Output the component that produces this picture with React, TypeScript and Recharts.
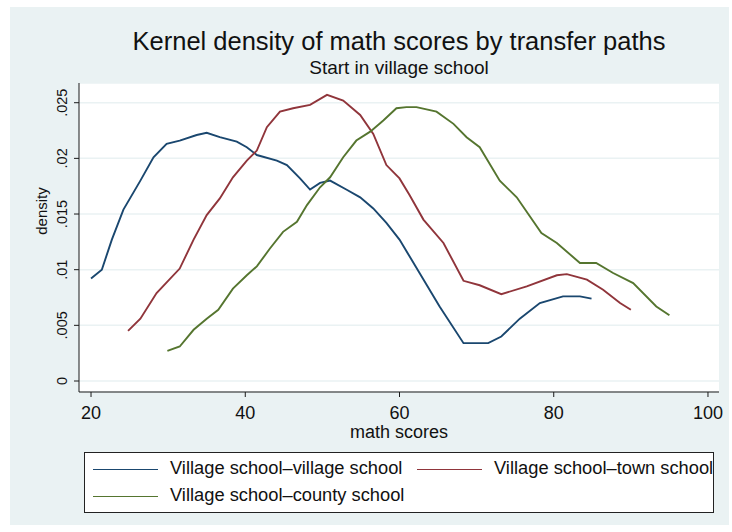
import { CartesianGrid, Line, LineChart, XAxis, YAxis } from 'recharts';

// Kernel density curves (math score → density)
const VILLAGE_X = [
  20, 21.4, 22.7, 24.2, 26.4, 28.1, 29.8, 31.5, 33.7, 35.0, 36.7, 38.9, 40.2, 41.5, 44.1, 45.4, 47.1, 48.4,
  49.7, 51.0, 53.1, 54.9, 56.6, 58.3, 60.0, 61.3, 62.6, 65.2, 68.3, 71.5, 73.2, 75.6, 78.2, 81.2, 83.4, 84.9,
];
const VILLAGE_Y = [
  0.0092, 0.01, 0.0127, 0.0154, 0.018, 0.0201, 0.0213, 0.0216, 0.0221, 0.0223, 0.0219, 0.0215, 0.021, 0.0203,
  0.0198, 0.0194, 0.0182, 0.0172, 0.0178, 0.018, 0.0172, 0.0165, 0.0155, 0.0142, 0.0127, 0.0112, 0.0097,
  0.0067, 0.0034, 0.0034, 0.004, 0.0056, 0.007, 0.0076, 0.0076, 0.0074,
];

const TOWN_X = [
  24.8, 26.4, 28.5, 31.5, 33.3, 35.0, 36.7, 38.4, 40.2, 41.5, 42.8, 44.5, 46.2, 48.4, 50.6, 52.7, 54.9, 56.6,
  58.3, 60.0, 61.3, 63.1, 65.7, 68.3, 70.4, 73.2, 76.5, 80.4, 81.7, 84.3, 86.4, 88.6, 90.0,
];
const TOWN_Y = [
  0.0045, 0.0056, 0.0079, 0.0101, 0.0127, 0.0149, 0.0164, 0.0183, 0.0198, 0.0207, 0.0228, 0.0242, 0.0245,
  0.0248, 0.0257, 0.0252, 0.0239, 0.0222, 0.0194, 0.0182, 0.0167, 0.0145, 0.0124, 0.009, 0.0086, 0.0078,
  0.0085, 0.0095, 0.0096, 0.0091, 0.0082, 0.007, 0.0064,
];

const COUNTY_X = [
  29.9, 31.5, 33.3, 35.0, 36.5, 38.4, 40.2, 41.5, 43.2, 44.9, 46.7, 48.0, 49.7, 51.0, 52.7, 54.4, 56.2, 57.9,
  59.6, 60.9, 62.2, 64.8, 67.0, 68.7, 70.4, 73.0, 75.2, 78.4, 80.4, 83.4, 85.5, 87.7, 90.3, 93.3, 95.0,
];
const COUNTY_Y = [
  0.0027, 0.0031, 0.0046, 0.0056, 0.0064, 0.0083, 0.0095, 0.0103, 0.0119, 0.0134, 0.0143, 0.0158, 0.0174,
  0.0183, 0.0201, 0.0216, 0.0224, 0.0234, 0.0245, 0.0246, 0.0246, 0.0242, 0.0231, 0.0219, 0.021, 0.018,
  0.0165, 0.0133, 0.0124, 0.0106, 0.0106, 0.0097, 0.0088, 0.0067, 0.0059,
];

const X_TICKS = [20, 40, 60, 80, 100];
const Y_TICKS = [0, 0.005, 0.01, 0.015, 0.02, 0.025];
const Y_TICK_LABELS = ['0', '.005', '.01', '.015', '.02', '.025'];

const SERIES = [
  { id: 'village', label: 'Village school\u2013village school', color: '#1a476f', xs: VILLAGE_X, ys: VILLAGE_Y },
  { id: 'town', label: 'Village school\u2013town school', color: '#90353b', xs: TOWN_X, ys: TOWN_Y },
  { id: 'county', label: 'Village school\u2013county school', color: '#55752f', xs: COUNTY_X, ys: COUNTY_Y },
];

const FONT = "'Liberation Sans', Arial, Helvetica, sans-serif";
const BG = '#eaf2f3';
const INK = '#111111';

function YTick(props: any) {
  const { y, payload } = props;
  const idx = Y_TICKS.indexOf(payload.value);
  const text = idx >= 0 ? Y_TICK_LABELS[idx] : String(payload.value);
  return (
    <text
      x={67}
      y={y}
      transform={`rotate(-90, 67, ${y})`}
      textAnchor="middle"
      fontSize={14.5}
      fontFamily={FONT}
      fill={INK}
    >
      {text}
    </text>
  );
}

function XTick(props: any) {
  const { x, y, payload } = props;
  return (
    <text x={x} y={y + 20} textAnchor="middle" fontSize={18} fontFamily={FONT} fill={INK}>
      {payload.value}
    </text>
  );
}

function LegendRow({ color, label, left, top }: { color: string; label: string; left: number; top: number }) {
  return (
    <>
      <div
        style={{ position: 'absolute', left, top, width: 65, height: 0, borderTop: `1.5px solid ${color}` }}
      />
      <div
        style={{
          position: 'absolute',
          left: left + 77,
          top: top - 11,
          fontSize: 18.3,
          lineHeight: '20px',
          whiteSpace: 'nowrap',
          color: INK,
        }}
      >
        {label}
      </div>
    </>
  );
}

export default function App() {
  return (
    <div
      style={{
        position: 'absolute',
        left: 0,
        top: 0,
        width: 732,
        height: 532,
        background: '#ffffff',
        fontFamily: FONT,
        overflow: 'hidden',
      }}
    >
      <div style={{ position: 'absolute', left: 10, top: 7, width: 719, height: 518, background: BG }} />

      <svg width={732} height={532} style={{ position: 'absolute', left: 0, top: 0 }}>
        <text x={399} y={50} textAnchor="middle" fontSize={25.5} fontFamily={FONT} fill={INK}>
          Kernel density of math scores by transfer paths
        </text>
        <text x={399} y={74} textAnchor="middle" fontSize={19} fontFamily={FONT} fill={INK}>
          Start in village school
        </text>
        <text
          x={47}
          y={211}
          transform="rotate(-90, 47, 211)"
          textAnchor="middle"
          fontSize={15}
          fontFamily={FONT}
          fill={INK}
        >
          density
        </text>
        <text x={399} y={438} textAnchor="middle" fontSize={18} fontFamily={FONT} fill={INK}>
          math scores
        </text>
      </svg>

      <div style={{ position: 'absolute', left: 0, top: 0 }}>
        <LineChart width={732} height={532} margin={{ top: 83, right: 13, bottom: 110, left: 39 }}>
          <CartesianGrid fill="#ffffff" stroke={BG} strokeWidth={1.5} vertical={false} />
          <XAxis
            type="number"
            dataKey="x"
            domain={[18.44, 101.43]}
            ticks={X_TICKS}
            allowDataOverflow
            height={30}
            axisLine={{ stroke: '#1a1a1a' }}
            tickLine={{ stroke: '#1a1a1a' }}
            tickSize={5}
            tick={<XTick />}
          />
          <YAxis
            type="number"
            domain={[-0.000988, 0.02677]}
            ticks={Y_TICKS}
            allowDataOverflow
            width={40}
            axisLine={{ stroke: '#1a1a1a' }}
            tickLine={{ stroke: '#1a1a1a' }}
            tickSize={5}
            tick={<YTick />}
          />
          {SERIES.map((s) => (
            <Line
              key={s.id}
              data={s.xs.map((x, i) => ({ x, y: s.ys[i] }))}
              dataKey="y"
              name={s.label}
              stroke={s.color}
              strokeWidth={1.9}
              dot={false}
              type="linear"
              isAnimationActive={false}
            />
          ))}
        </LineChart>
      </div>

      <div
        style={{
          position: 'absolute',
          left: 84,
          top: 452,
          width: 628,
          height: 59,
          background: '#ffffff',
          border: '1px solid #222',
          overflow: 'hidden',
        }}
      >
        <div style={{ position: 'relative' }}>
          <LegendRow color={SERIES[0].color} label={SERIES[0].label} left={8} top={16} />
          <LegendRow color={SERIES[1].color} label={SERIES[1].label} left={332} top={16} />
          <LegendRow color={SERIES[2].color} label={SERIES[2].label} left={8} top={43} />
        </div>
      </div>
    </div>
  );
}
